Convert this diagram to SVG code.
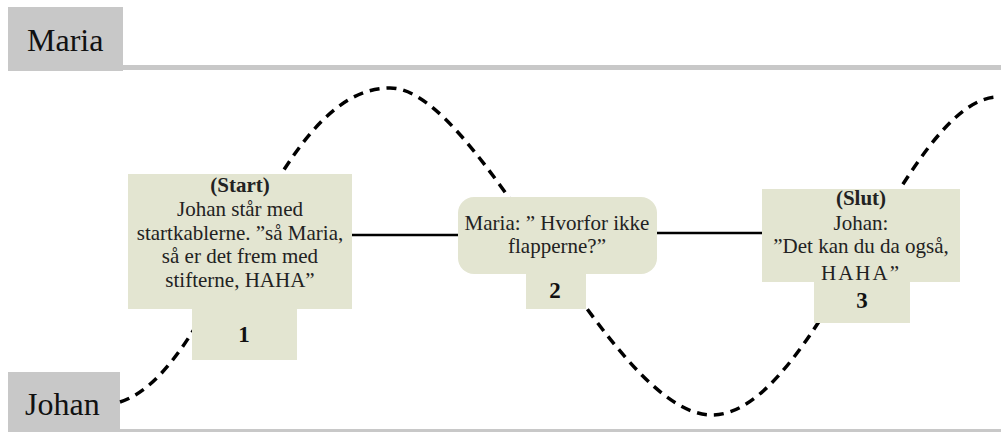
<svg xmlns="http://www.w3.org/2000/svg" width="1001" height="432" viewBox="0 0 1001 432">
  <style>
    .lane { fill: #c8c8c8; }
    .lane-label { font-family: "Liberation Serif", "Times New Roman", serif; font-size: 32px; fill: #111; }
    .node { fill: #e3e5d1; }
    .txt { font-family: "Liberation Serif", "Times New Roman", serif; font-size: 21px; fill: #222; text-anchor: middle; }
    .bold { font-weight: bold; }
    .num { font-family: "Liberation Serif", "Times New Roman", serif; font-size: 23px; font-weight: bold; fill: #111; text-anchor: middle; }
    .dash { fill: none; stroke: #000; stroke-width: 3.5; stroke-dasharray: 10 7; }
    .link { fill: none; stroke: #000; stroke-width: 2.5; }
  </style>

  <rect width="1001" height="432" fill="#ffffff"/>

  <!-- swim lanes -->
  <g id="lane-maria">
    <rect class="lane" x="8" y="7" width="115" height="64"/>
    <rect class="lane" x="123" y="65" width="878" height="5"/>
    <text class="lane-label" x="27" y="51">Maria</text>
  </g>
  <g id="lane-johan">
    <rect class="lane" x="8" y="372" width="112" height="60"/>
    <rect class="lane" x="120" y="429" width="881" height="3"/>
    <text class="lane-label" x="25" y="415">Johan</text>
  </g>

  <!-- connectors -->
  <g id="connectors">
    <path class="dash" d="M120,402 C220,370 270,88 390,88 C480,88 610,415 712,415 C815,415 905,100 997,97"/>
    <line class="link" x1="352" y1="235" x2="458" y2="235"/>
    <line class="link" x1="657" y1="233" x2="762" y2="233"/>
  </g>

  <!-- step 1 -->
  <g id="node-1">
    <rect class="node" x="128" y="174" width="224" height="135"/>
    <rect class="node" x="192" y="308" width="105" height="52"/>
    <text class="txt bold" x="240" y="192">(Start)</text>
    <text class="txt" x="240" y="216">Johan står med</text>
    <text class="txt" x="240" y="240">startkablerne. ”så Maria,</text>
    <text class="txt" x="240" y="263">så er det frem med</text>
    <text class="txt" x="240" y="287">stifterne, HAHA”</text>
    <text class="num" x="244" y="342">1</text>
  </g>

  <!-- step 2 -->
  <g id="node-2">
    <rect class="node" x="458" y="197" width="199" height="77" rx="16" ry="16"/>
    <rect class="node" x="526" y="272" width="60" height="37"/>
    <text class="txt" x="557" y="230">Maria: ” Hvorfor ikke</text>
    <text class="txt" x="557" y="253">flapperne?”</text>
    <text class="num" x="555" y="298">2</text>
  </g>

  <!-- step 3 -->
  <g id="node-3">
    <rect class="node" x="762" y="189" width="198" height="93"/>
    <rect class="node" x="814" y="281" width="96" height="42"/>
    <text class="txt bold" x="861" y="205">(Slut)</text>
    <text class="txt" x="861" y="230">Johan:</text>
    <text class="txt" x="861" y="253">”Det kan du da også,</text>
    <text class="txt" x="861" y="280" letter-spacing="2">HAHA”</text>
    <text class="num" x="862" y="308">3</text>
  </g>
</svg>
